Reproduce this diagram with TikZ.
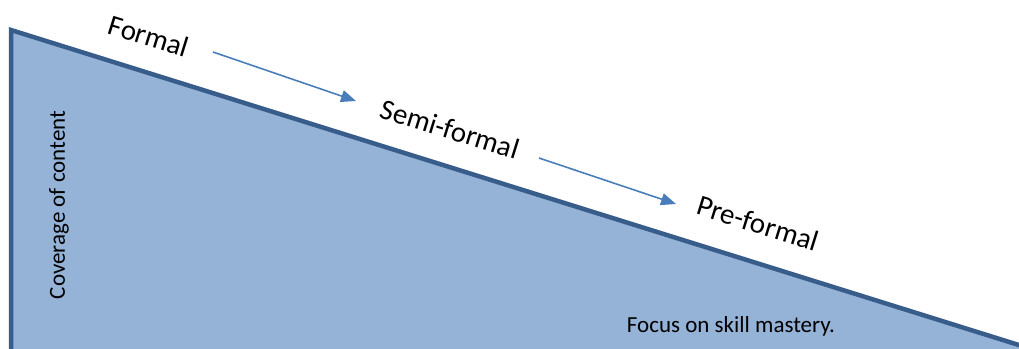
\documentclass[tikz,border=0pt]{standalone}
\usepackage{fontspec}
\setmainfont{Carlito}
\usetikzlibrary{arrows.meta}
\definecolor{trifill}{HTML}{95B3D7}
\definecolor{triline}{HTML}{385D8A}
\definecolor{arrowc}{HTML}{4A7EBB}
\tikzset{
  bigtext/.style={font=\fontsize{29}{34}\selectfont, rotate=-17.3, inner sep=0pt},
  smalltext/.style={font=\fontsize{23}{28}\selectfont, inner sep=0pt},
  flowarrow/.style={draw=arrowc, line width=1.6pt, -{Triangle[length=15pt,width=12pt]}},
  triangle/.style={fill=trifill, draw=triline, line width=4.5pt, line join=miter}
}
\begin{document}
\begin{tikzpicture}[x=1pt,y=-1pt]
\useasboundingbox (0,0) rectangle (1019,348);
\begin{scope}
\clip (0,0) rectangle (1019,348);
\coordinate (tA) at (11,30);
\coordinate (tB) at (1070,361);
\coordinate (tC) at (11,361);
\draw[triangle] (tA) -- (tB) -- (tC) -- cycle;
\end{scope}
\node[bigtext] (formal) at (149,36) {Formal};
\node[bigtext] (semi) at (450,129) {Semi-formal};
\node[bigtext] (pre) at (758,223) {Pre-formal};
\node[smalltext, rotate=90] (cov) at (59,205) {Coverage of content};
\node[smalltext] (focus) at (731,326) {Focus on skill mastery.};
\coordinate (a1s) at (213,52);
\coordinate (a1e) at (356,101);
\coordinate (a2s) at (539,158);
\coordinate (a2e) at (676,204);
\draw[flowarrow] (a1s) -- (a1e);
\draw[flowarrow] (a2s) -- (a2e);
\end{tikzpicture}
\end{document}
